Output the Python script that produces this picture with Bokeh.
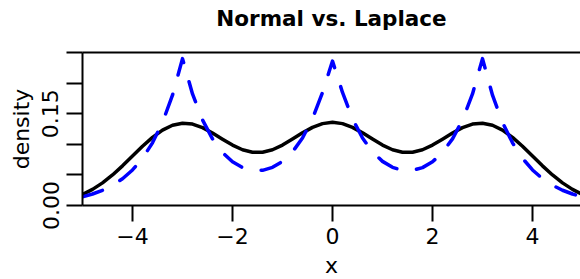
from bokeh.plotting import figure
from bokeh.models import Range1d, FixedTicker, LinearAxis, Title
from bokeh.embed import file_html
from bokeh.resources import INLINE

# ---- data ----
x_values = [-5.0, -4.8, -4.6, -4.4, -4.2, -4.0, -3.8, -3.6, -3.4, -3.2,
            -3.0, -2.8, -2.6, -2.4, -2.2, -2.0, -1.8, -1.6, -1.4, -1.2,
            -1.0, -0.8, -0.6, -0.4, -0.2, 0.0, 0.2, 0.4, 0.6, 0.8,
            1.0, 1.2, 1.4, 1.6, 1.8, 2.0, 2.2, 2.4, 2.6, 2.8,
            3.0, 3.2, 3.4, 3.6, 3.8, 4.0, 4.2, 4.4, 4.6, 4.8, 5.0]

normal_density = [0.0180, 0.0263, 0.0370, 0.0499, 0.0648, 0.0807, 0.0967, 0.1113, 0.1232, 0.1311,
                  0.1345, 0.1330, 0.1273, 0.1185, 0.1084, 0.0987, 0.0911, 0.0869, 0.0869, 0.0911,
                  0.0987, 0.1085, 0.1187, 0.1277, 0.1338, 0.1359, 0.1338, 0.1277, 0.1187, 0.1085,
                  0.0987, 0.0911, 0.0869, 0.0869, 0.0911, 0.0987, 0.1084, 0.1185, 0.1273, 0.1330,
                  0.1345, 0.1311, 0.1232, 0.1113, 0.0967, 0.0807, 0.0648, 0.0499, 0.0370, 0.0263, 0.0180]

laplace_density = [0.0141, 0.0188, 0.0249, 0.0330, 0.0438, 0.0581, 0.0771, 0.1024, 0.1358, 0.1802,
                   0.2400, 0.1822, 0.1399, 0.1089, 0.0867, 0.0714, 0.0619, 0.0574, 0.0575, 0.0623,
                   0.0721, 0.0876, 0.1103, 0.1418, 0.1847, 0.2360, 0.1847, 0.1418, 0.1103, 0.0876,
                   0.0721, 0.0623, 0.0575, 0.0574, 0.0619, 0.0714, 0.0867, 0.1089, 0.1399, 0.1822,
                   0.2400, 0.1802, 0.1358, 0.1024, 0.0771, 0.0581, 0.0438, 0.0330, 0.0249, 0.0188, 0.0141]

xtick_values = [-4, -2, 0, 2, 4]
xtick_labels = ["\u22124", "\u22122", "0", "2", "4"]
ytick_values = [0.0, 0.05, 0.10, 0.15, 0.20, 0.25]
ytick_labels = ["0.00", "", "", "0.15", "", ""]

title_text = "Normal vs. Laplace"
x_label = "x"
y_label = "density"

FONT = "DejaVu Sans"

p = figure(width=580, height=279, output_backend="svg", toolbar_location=None, title=None,
           x_range=Range1d(-5, 4.96), y_range=Range1d(0, 0.25),
           min_border_left=82, min_border_right=0, min_border_top=52, min_border_bottom=73)

p.grid.visible = False
p.outline_line_color = None
p.background_fill_color = "white"
p.border_fill_color = "white"

def style_axis(ax):
    ax.axis_line_width = 2
    ax.axis_line_color = "black"
    ax.major_tick_line_width = 2
    ax.major_tick_line_color = "black"
    ax.major_tick_out = 16
    ax.major_tick_in = 0
    ax.minor_tick_line_color = None
    ax.major_label_text_font = FONT
    ax.major_label_text_font_size = "22px"
    ax.major_label_text_color = "black"
    ax.axis_label_text_font = FONT
    ax.axis_label_text_font_size = "22px"
    ax.axis_label_text_font_style = "normal"
    ax.axis_label_text_color = "black"

def spacer_axis(room, line_color):
    # an axis with invisible ticks / no labels; its tick room only adds spacing
    return LinearAxis(ticker=FixedTicker(ticks=xtick_values),
                      major_label_overrides={v: "" for v in xtick_values},
                      axis_line_width=2, axis_line_color=line_color,
                      major_label_text_font_size="0px", major_label_standoff=0,
                      major_tick_line_color=None, major_tick_out=room, major_tick_in=0,
                      minor_tick_line_color=None)

xa = p.xaxis[0]
style_axis(xa)
xa.ticker = FixedTicker(ticks=xtick_values)
xa.major_label_overrides = dict(zip(xtick_values, xtick_labels))
xa.major_label_standoff = 6

ya = p.yaxis[0]
style_axis(ya)
ya.ticker = FixedTicker(ticks=ytick_values)
ya.major_label_overrides = dict(zip(ytick_values, ytick_labels))
ya.major_label_orientation = "vertical"
ya.major_label_standoff = 8
ya.axis_label = y_label
ya.axis_label_standoff = 6

# top edge of the box, then the chart title above it
p.add_layout(spacer_axis(22, "black"), "above")
p.add_layout(Title(text=title_text, align="center", vertical_align="bottom", standoff=0,
                   text_font=FONT, text_font_size="21.5px", text_font_style="bold",
                   text_color="black"), "above")

# x-axis title under the tick labels
p.add_layout(spacer_axis(6, None), "below")
p.add_layout(Title(text=x_label, align="center", vertical_align="top", standoff=0,
                   text_font=FONT, text_font_size="22px", text_font_style="normal",
                   text_color="black"), "below")

p.line(x_values, normal_density, line_color="black", line_width=3.5, line_join="round")
p.line(x_values, laplace_density, line_color="#0000FF", line_width=3.5, line_join="round",
       line_cap="round", line_dash="21 20")

open("out.html", "w").write(file_html(p, INLINE))
